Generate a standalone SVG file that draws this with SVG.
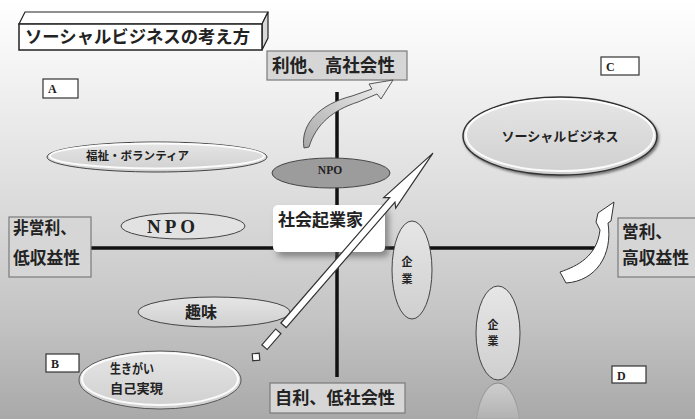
<svg xmlns="http://www.w3.org/2000/svg" width="695" height="419" viewBox="0 0 695 419">
<defs>
<linearGradient id="bg" x1="0" y1="0" x2="0" y2="1">
<stop offset="0" stop-color="#ffffff"/>
<stop offset="0.12" stop-color="#f7f7f7"/>
<stop offset="0.45" stop-color="#dedede"/>
<stop offset="0.75" stop-color="#c5c5c5"/>
<stop offset="1" stop-color="#a9a9a9"/>
</linearGradient>
<linearGradient id="ell" x1="0" y1="0" x2="0" y2="1">
<stop offset="0" stop-color="#e6e6e6"/>
<stop offset="1" stop-color="#cfcfcf"/>
</linearGradient>
<linearGradient id="curv" x1="0" y1="1" x2="1" y2="0">
<stop offset="0" stop-color="#a8a8a8"/>
<stop offset="1" stop-color="#f4f4f4"/>
</linearGradient>
<linearGradient id="refl" x1="0" y1="0" x2="0" y2="1">
<stop offset="0" stop-color="#d8d8d8" stop-opacity="0.7"/>
<stop offset="1" stop-color="#d8d8d8" stop-opacity="0"/>
</linearGradient>
<linearGradient id="reflS" x1="0" y1="0" x2="0" y2="1">
<stop offset="0" stop-color="#666" stop-opacity="0.6"/>
<stop offset="1" stop-color="#666" stop-opacity="0"/>
</linearGradient>
<filter id="sh" x="-20%" y="-20%" width="150%" height="160%">
<feDropShadow dx="4" dy="5" stdDeviation="3" flood-color="#555" flood-opacity="0.6"/>
</filter>
<filter id="sh2" x="-10%" y="-10%" width="125%" height="130%">
<feDropShadow dx="1.5" dy="2" stdDeviation="1" flood-color="#333" flood-opacity="0.6"/>
</filter>
</defs>
<style>
.jp{font-family:"Noto Sans CJK JP","Noto Sans CJK SC",sans-serif;font-weight:700;fill:#222}
.ser{font-family:"Liberation Serif","Noto Sans CJK JP",serif;font-weight:700;fill:#222}
.gbox{fill:#d6d6d6;stroke:#7a7a7a;stroke-width:1.2}
.lbox{fill:#fff;stroke:#333;stroke-width:1.2}
.el{fill:url(#ell);stroke:#444;stroke-width:1}
.rim{fill:none;stroke:#fff;stroke-width:2;opacity:0.9}
.axis{stroke:#111;stroke-width:3.5;fill:none}
</style>

<rect x="0" y="0" width="695" height="419" fill="url(#bg)"/>

<g id="axes">
<line class="axis" x1="91" y1="248" x2="600" y2="248"/>
<line class="axis" x1="337" y1="92" x2="337" y2="377"/>
</g>

<g id="title">
<polygon points="19,24 25,12 268,12 262,24" fill="#fff" stroke="#222" stroke-width="1.2"/>
<polygon points="262,24 268,12 268,38 262,50" fill="#d8d8d8" stroke="#222" stroke-width="1.2"/>
<rect x="19" y="24" width="243" height="26" fill="#fff" stroke="#222" stroke-width="1.5"/>
<text class="jp" x="25" y="43" font-size="17.5" font-weight="900" textLength="225" lengthAdjust="spacingAndGlyphs">ソーシャルビジネスの考え方</text>
</g>

<g id="label-top">
<rect class="gbox" x="267" y="51" width="140" height="29"/>
<text class="jp" x="272" y="72" font-size="18" textLength="123" lengthAdjust="spacingAndGlyphs">利他、高社会性</text>
</g>
<g id="label-left">
<rect class="gbox" x="9" y="217" width="82" height="60"/>
<text class="jp" x="13" y="234" font-size="16.5" textLength="63" lengthAdjust="spacingAndGlyphs">非営利、</text>
<text class="jp" x="13" y="264" font-size="16.5" textLength="67" lengthAdjust="spacingAndGlyphs">低収益性</text>
</g>
<g id="label-right">
<rect class="gbox" x="618" y="218" width="80" height="59"/>
<text class="jp" x="622" y="238" font-size="16.5" textLength="50" lengthAdjust="spacingAndGlyphs">営利、</text>
<text class="jp" x="622" y="264" font-size="16.5" textLength="67" lengthAdjust="spacingAndGlyphs">高収益性</text>
</g>
<g id="label-bottom">
<rect class="gbox" x="270" y="383" width="135" height="30"/>
<text class="jp" x="275" y="404" font-size="17" textLength="120" lengthAdjust="spacingAndGlyphs">自利、低社会性</text>
</g>

<g id="quad-A"><rect class="lbox" x="43" y="79" width="35" height="19"/><text class="ser" x="48" y="93" font-size="12">A</text></g>
<g id="quad-C"><rect class="lbox" x="601" y="57" width="38" height="18"/><text class="ser" x="606" y="71" font-size="12">C</text></g>
<g id="quad-B"><rect class="lbox" x="46" y="354" width="33" height="18"/><text class="ser" x="51" y="368" font-size="12">B</text></g>
<g id="quad-D"><rect class="lbox" x="612" y="366" width="34" height="17"/><text class="ser" x="617" y="380" font-size="12">D</text></g>

<g id="social-business">
<ellipse cx="560" cy="136" rx="97" ry="39" fill="url(#ell)" stroke="#333" stroke-width="1.5" filter="url(#sh2)"/>
<ellipse class="rim" cx="560" cy="135" rx="94" ry="36"/>
<text class="jp" x="560" y="141" font-size="13" font-weight="500" text-anchor="middle" textLength="117" lengthAdjust="spacingAndGlyphs">ソーシャルビジネス</text>
</g>
<g id="welfare">
<ellipse class="el" cx="157" cy="157" rx="110" ry="15"/>
<ellipse class="rim" cx="157" cy="156" rx="107" ry="12.5"/>
<text class="jp" x="86" y="160" font-size="11.5" textLength="103" lengthAdjust="spacingAndGlyphs">福祉・ボランティア</text>
</g>
<g id="npo-top">
<ellipse cx="331" cy="173" rx="59" ry="15" fill="#9c9c9c" stroke="#444" stroke-width="1"/>
<text class="ser" x="330" y="174" font-size="11.5" text-anchor="middle">NPO</text>
</g>
<g id="npo-left">
<ellipse cx="183" cy="226" rx="62" ry="13" fill="#e2e2e2" stroke="#444" stroke-width="1"/>
<text class="ser" x="147" y="233" font-size="19" textLength="48" lengthAdjust="spacing">NPO</text>
</g>
<g id="company1">
<ellipse class="el" cx="412" cy="270" rx="20" ry="49"/>
<text class="jp" x="407" y="266" font-size="11" text-anchor="middle">企</text>
<text class="jp" x="407" y="283" font-size="11" text-anchor="middle">業</text>
</g>
<g id="company2">
<ellipse class="el" cx="498" cy="333" rx="22" ry="47"/>
<text class="jp" x="493" y="329" font-size="11" text-anchor="middle">企</text>
<text class="jp" x="493" y="345" font-size="11" text-anchor="middle">業</text>
<path d="M476,430 A22,47 0 0 1 520,430 L520,419 L476,419 Z" fill="url(#refl)" stroke="url(#reflS)" stroke-width="1"/>
</g>
<g id="hobby">
<ellipse class="el" cx="214" cy="312" rx="76" ry="15"/>
<text class="jp" x="185" y="318" font-size="16" textLength="32" lengthAdjust="spacingAndGlyphs">趣味</text>
</g>
<g id="ikigai">
<ellipse cx="160" cy="380" rx="81" ry="29" fill="url(#ell)" stroke="#555" stroke-width="1"/>
<ellipse class="rim" cx="160" cy="379" rx="78" ry="26"/>
<text class="jp" x="110" y="373" font-size="13" textLength="44" lengthAdjust="spacingAndGlyphs">生きがい</text>
<text class="jp" x="110" y="393" font-size="13" textLength="53" lengthAdjust="spacingAndGlyphs">自己実現</text>
</g>
<g id="entrepreneur">
<rect x="273" y="205" width="112" height="47" rx="5" fill="#fff" filter="url(#sh)"/>
<text class="jp" x="278" y="226" font-size="17" textLength="85" lengthAdjust="spacingAndGlyphs">社会起業家</text>
</g>

<g id="connectors">
<path d="M304,148 C300,124 320,104 352,96 L372,89 L369,84 L393,80 L381,99 L377,94 L358,102 C333,110 316,124 309,147 Z" fill="url(#curv)" stroke="#444" stroke-width="0.9"/>
<path d="M560,272 C578,266 597,256 600,230 L596,222 L598,213 L614,202 L611,221 L608,223 C613,255 596,281 566,283 Z" fill="#fff" stroke="#333" stroke-width="1"/>
<g transform="translate(256,357) rotate(-49.05)" fill="#fff" stroke="#333" stroke-width="1.2">
<rect x="-3.5" y="-3.5" width="7" height="7" transform="rotate(45)"/>
<rect x="13" y="-3.5" width="21" height="7"/>
<polygon points="42,-3.5 208,-3.5 204,-8 270,0 204,8 208,3.5 42,3.5"/>
</g>
</g>
</svg>
